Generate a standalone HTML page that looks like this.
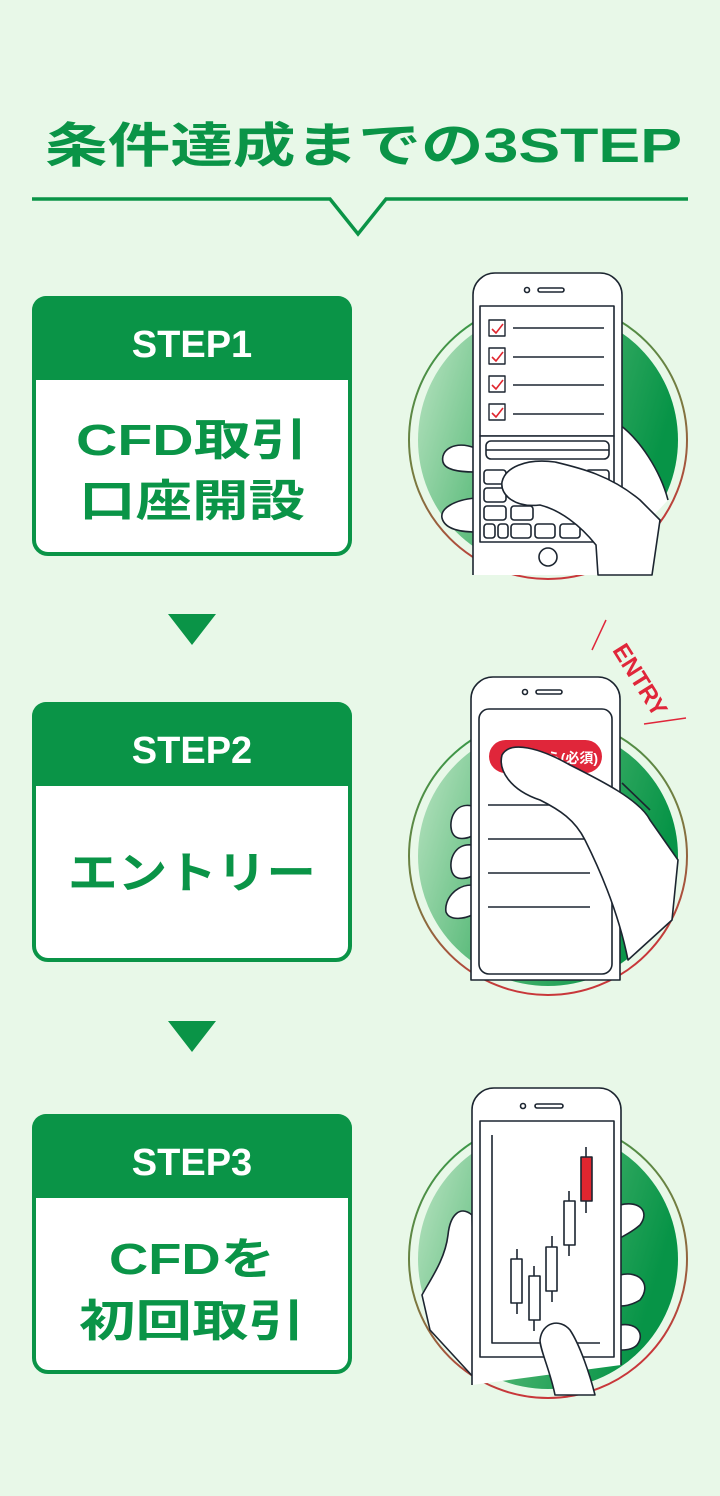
<!DOCTYPE html>
<html><head><meta charset="utf-8"><style>
html,body{margin:0;padding:0;background:#e8f8e8;}
svg{display:block;}
text{font-family:"Liberation Sans","Noto Sans CJK JP",sans-serif;font-weight:bold;}
</style></head><body>
<svg width="720" height="1496" viewBox="0 0 720 1496" xmlns="http://www.w3.org/2000/svg">
<defs>
<linearGradient id="g" x1="0" y1="0" x2="1" y2="0.3">
<stop offset="0" stop-color="#bfe6c6"/><stop offset="0.5" stop-color="#4fb672"/><stop offset="1" stop-color="#079447"/>
</linearGradient>
<linearGradient id="r" x1="0" y1="0" x2="0.3" y2="1">
<stop offset="0" stop-color="#2aa04a"/><stop offset="0.6" stop-color="#7a7a40"/><stop offset="1" stop-color="#c8373a"/>
</linearGradient>
</defs>
<rect width="720" height="1496" fill="#e8f8e8"/>
<text x="45" y="162" font-size="48" fill="#0a9447" textLength="637" lengthAdjust="spacingAndGlyphs">条件達成までの3STEP</text>
<polyline points="32,199 330,199 358,234 386,199 688,199" fill="none" stroke="#0a9447" stroke-width="3.5"/>

<!-- cards -->
<g stroke="#0a9447" stroke-width="4">
<rect x="34" y="298" width="316" height="256" rx="14" fill="#fff"/>
<rect x="34" y="704" width="316" height="256" rx="14" fill="#fff"/>
<rect x="34" y="1116" width="316" height="256" rx="14" fill="#fff"/>
</g>
<g fill="#0a9447">
<path d="M32,310 a14,14 0 0 1 14,-14 h292 a14,14 0 0 1 14,14 v70 h-320z"/>
<path d="M32,716 a14,14 0 0 1 14,-14 h292 a14,14 0 0 1 14,14 v70 h-320z"/>
<path d="M32,1128 a14,14 0 0 1 14,-14 h292 a14,14 0 0 1 14,14 v70 h-320z"/>
<polygon points="168,614 216,614 192,645"/>
<polygon points="168,1021 216,1021 192,1052"/>
</g>
<g fill="#fff" font-size="38" text-anchor="middle">
<text x="192" y="357">STEP1</text>
<text x="192" y="763">STEP2</text>
<text x="192" y="1175">STEP3</text>
</g>
<g fill="#0a9447" font-size="44" text-anchor="middle">
<text x="192" y="455" textLength="232" lengthAdjust="spacingAndGlyphs">CFD取引</text>
<text x="192" y="516" textLength="226" lengthAdjust="spacingAndGlyphs">口座開設</text>
<text x="192" y="888" textLength="248" lengthAdjust="spacingAndGlyphs">エントリー</text>
<text x="192" y="1274" textLength="166" lengthAdjust="spacingAndGlyphs">CFDを</text>
<text x="192" y="1336" textLength="226" lengthAdjust="spacingAndGlyphs">初回取引</text>
</g>

<!-- circles -->
<g>
<circle cx="548" cy="440" r="139" fill="none" stroke="url(#r)" stroke-width="2"/>
<circle cx="548" cy="440" r="130" fill="url(#g)"/>
<circle cx="548" cy="856" r="139" fill="none" stroke="url(#r)" stroke-width="2"/>
<circle cx="548" cy="856" r="130" fill="url(#g)"/>
<circle cx="548" cy="1259" r="139" fill="none" stroke="url(#r)" stroke-width="2"/>
<circle cx="548" cy="1259" r="130" fill="url(#g)"/>
</g>

<g stroke="#1c2530" stroke-width="1.6" fill="#fff" stroke-linejoin="round">
<!-- step1 -->
<path d="M475,448 C455,440 440,450 443,462 C445,470 460,472 475,472 L475,498 C455,500 440,508 442,518 C445,530 462,532 476,532 Z"/>
<path d="M620,425 C640,440 660,470 668,500 L640,530 L620,520 Z" stroke="none"/>
<path d="M620,425 C640,440 660,470 668,500"/>
<path d="M473,575 V295 a22,22 0 0 1 22,-22 h105 a22,22 0 0 1 22,22 V575"/>
<rect x="480" y="306" width="134" height="130" fill="#fff"/>
<rect x="480" y="436" width="134" height="106" fill="#fff"/>
<rect x="486" y="441" width="123" height="18" rx="5"/>
<line x1="486" y1="450" x2="609" y2="450"/>
<g>
<rect x="484" y="470" width="22" height="14" rx="3"/><rect x="511" y="470" width="22" height="14" rx="3"/><rect x="586" y="470" width="23" height="14" rx="3"/>
<rect x="484" y="488" width="22" height="14" rx="3"/>
<rect x="484" y="506" width="22" height="14" rx="3"/><rect x="511" y="506" width="22" height="14" rx="3"/>
<rect x="484" y="524" width="11" height="14" rx="3"/><rect x="498" y="524" width="10" height="14" rx="3"/><rect x="511" y="524" width="20" height="14" rx="3"/><rect x="535" y="524" width="20" height="14" rx="3"/><rect x="560" y="524" width="20" height="14" rx="3"/>
</g>
<circle cx="548" cy="557" r="9"/>
<circle cx="527" cy="290" r="2.5" fill="none"/>
<rect x="538" y="288" width="26" height="4" rx="2" fill="none"/>
<path d="M598,575 L596,545 C580,525 560,510 540,505 C515,508 500,495 502,482 C505,468 525,458 555,462 C580,468 610,475 640,500 L660,520 L652,575 Z"/>
<g stroke-width="1.4">
<rect x="489" y="320" width="16" height="16" fill="none"/><rect x="489" y="348" width="16" height="16" fill="none"/><rect x="489" y="376" width="16" height="16" fill="none"/><rect x="489" y="404" width="16" height="16" fill="none"/>
<line x1="513" y1="328" x2="604" y2="328"/><line x1="513" y1="357" x2="604" y2="357"/><line x1="513" y1="385" x2="604" y2="385"/><line x1="513" y1="414" x2="604" y2="414"/>
</g>
<g stroke="#e0262f" fill="none" stroke-width="1.6">
<path d="M492,329 l4,4 l7,-9"/><path d="M492,357 l4,4 l7,-9"/><path d="M492,385 l4,4 l7,-9"/><path d="M492,413 l4,4 l7,-9"/>
</g>

<!-- step2 -->
<path d="M472,806 C455,802 448,820 452,832 C456,842 468,838 472,836 Z"/>
<path d="M472,845 C455,843 448,860 452,872 C456,882 468,878 472,876 Z"/>
<path d="M472,885 C455,885 444,900 446,912 C450,922 466,918 472,915 Z"/>
<path d="M471,980 V699 a22,22 0 0 1 22,-22 h105 a22,22 0 0 1 22,22 V980 Z" />
<rect x="479" y="709" width="133" height="265" rx="10"/>
<circle cx="525" cy="692" r="2.5" fill="none"/><rect x="536" y="690" width="26" height="4" rx="2" fill="none"/>
<rect x="489" y="740" width="113" height="33" rx="16.5" fill="#e0263a" stroke="none"/>
<text x="598" y="763" font-size="14" fill="#fff" text-anchor="end" stroke="none" font-weight="normal">ら(必須)</text>
<g stroke-width="1.4"><line x1="488" y1="805" x2="590" y2="805"/><line x1="488" y1="839" x2="590" y2="839"/><line x1="488" y1="873" x2="590" y2="873"/><line x1="488" y1="907" x2="590" y2="907"/></g>
<path d="M628,960 C620,920 605,880 585,840 C575,820 560,810 540,800 C510,790 498,770 502,755 C510,740 540,748 570,765 C600,780 640,800 650,820 L678,860 L672,920 Z"/>
<path d="M622,783 L650,810" fill="none"/>

<!-- step3 -->
<path d="M472,1215 C460,1205 450,1215 448,1235 C445,1260 430,1280 422,1295 L430,1330 L476,1380 Z"/>
<path d="M620,1205 C640,1200 650,1212 640,1225 C632,1232 625,1235 620,1238 Z"/>
<path d="M620,1275 C640,1270 652,1285 640,1300 C632,1305 625,1306 620,1306 Z"/>
<path d="M620,1325 C638,1322 645,1335 637,1345 C632,1350 625,1350 620,1350 Z"/>
<path d="M472,1385 V1110 a22,22 0 0 1 22,-22 h105 a22,22 0 0 1 22,22 V1365"/>
<rect x="480" y="1121" width="134" height="236"/>
<circle cx="523" cy="1106" r="2.5" fill="none"/><rect x="535" y="1104" width="28" height="4" rx="2" fill="none"/>
<polyline points="492,1135 492,1343 600,1343" fill="none"/>
<g>
<line x1="517" y1="1249" x2="517" y2="1314"/><rect x="511" y="1259" width="11" height="44"/>
<line x1="534" y1="1266" x2="534" y2="1331"/><rect x="529" y="1276" width="11" height="44"/>
<line x1="552" y1="1236" x2="552" y2="1302"/><rect x="546" y="1247" width="11" height="44"/>
<line x1="569" y1="1191" x2="569" y2="1256"/><rect x="564" y="1201" width="11" height="44"/>
<line x1="586" y1="1147" x2="586" y2="1213"/><rect x="581" y="1157" width="11" height="44" fill="#e0262f"/>
</g>
<path d="M555,1395 C550,1370 540,1350 540,1340 C542,1322 560,1318 570,1330 C580,1345 590,1375 595,1395 Z"/>
</g>

<!-- ENTRY -->
<g transform="translate(640,680) rotate(58)">
<text x="0" y="8" font-size="24" fill="#e0263a" text-anchor="middle">ENTRY</text>
</g>
<line x1="592" y1="650" x2="606" y2="620" stroke="#e0263a" stroke-width="1.5"/>
<line x1="644" y1="724" x2="686" y2="718" stroke="#e0263a" stroke-width="1.5"/>
</svg>
</body></html>
